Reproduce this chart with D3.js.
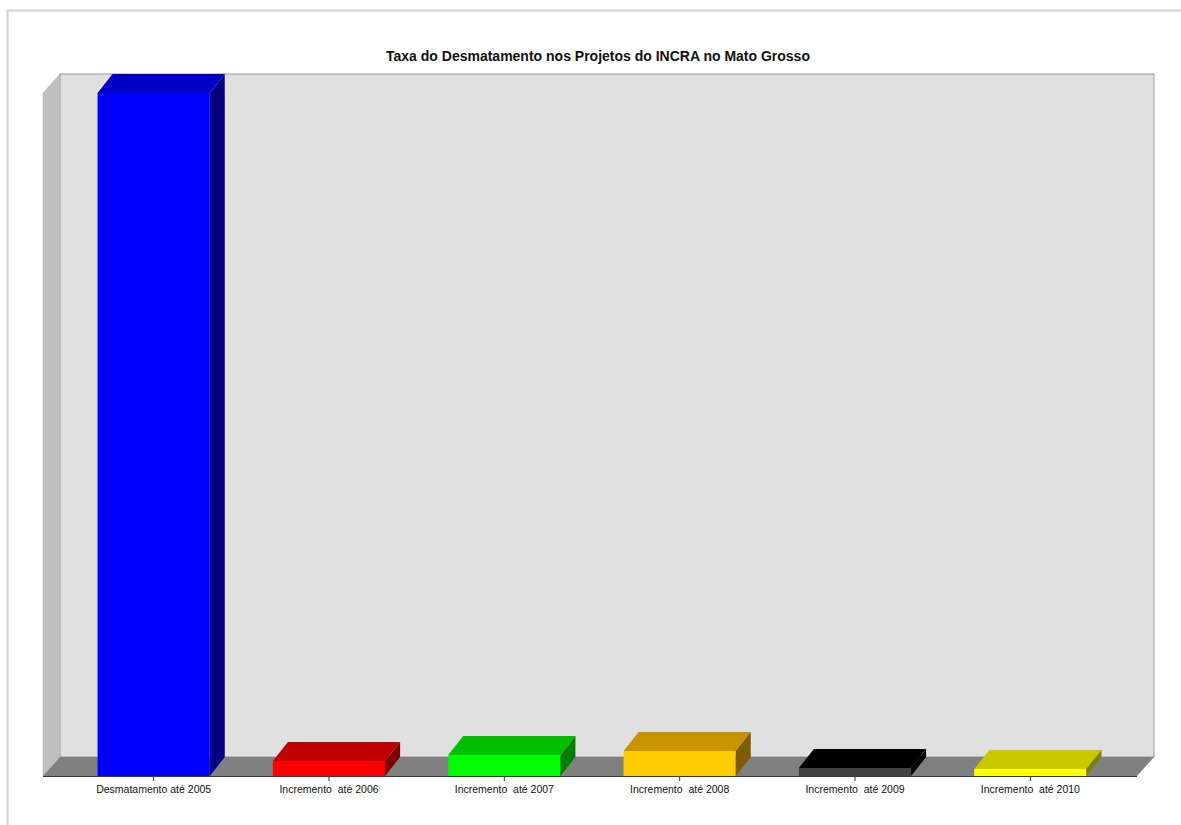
<!DOCTYPE html>
<html>
<head>
<meta charset="utf-8">
<script src="https://cdn.jsdelivr.net/npm/d3@7"></script>
<style>
  body { margin: 0; background: #fff; }
  svg { display: block; }
  .title { font-family: "Liberation Sans", Arial, sans-serif; font-size: 14px; font-weight: bold; fill: #111; }
  .cat-label { font-family: "Liberation Sans Narrow", "Arial Narrow", "Liberation Sans", sans-serif; font-size: 10.5px; fill: #111; white-space: pre; }
</style>
</head>
<body>
<svg width="1181" height="825"></svg>
<script>
let titleText = "Taxa do Desmatamento nos Projetos do INCRA no Mato Grosso";
let categories = ["Desmatamento até 2005", "Incremento  até 2006", "Incremento  até 2007", "Incremento  até 2008", "Incremento  até 2009", "Incremento  até 2010"];
let values = [45000, 990, 1385, 1650, 530, 465];
let frontColors = ["#0000ff", "#ff0000", "#00ff00", "#ffcc00", "#404040", "#ffff00"];
let topColors = ["#0000c8", "#c00000", "#00c000", "#c89400", "#000000", "#c8c800"];
let sideColors = ["#000080", "#800000", "#008000", "#805c00", "#000000", "#808000"];

function render() {
  let svg = d3.select("svg");

  let plot = {left: 43, right: 1137, top: 93, bottom: 776};
  let depth = {dx: 17, dy: -19};
  let barDepth = {dx: 15, dy: -19};

  // outer frame
  svg.append("path")
    .attr("d", `M7.5,825 L7.5,10.5 L1181,10.5`)
    .attr("fill", "none")
    .attr("stroke", "#d0d0d0")
    .attr("stroke-width", 2);

  svg.append("text")
    .attr("class", "title")
    .attr("x", 598)
    .attr("y", 61)
    .attr("text-anchor", "middle")
    .text(titleText);

  // back wall
  svg.append("rect")
    .attr("x", plot.left + depth.dx)
    .attr("y", plot.top + depth.dy)
    .attr("width", plot.right - plot.left)
    .attr("height", plot.bottom - plot.top)
    .attr("fill", "#e0e0e0")
    .attr("stroke", "#9a9a9a")
    .attr("stroke-width", 1);

  // left wall
  svg.append("polygon")
    .attr("points", [
      [plot.left, plot.top],
      [plot.left + depth.dx, plot.top + depth.dy],
      [plot.left + depth.dx, plot.bottom + depth.dy],
      [plot.left, plot.bottom]
    ].join(" "))
    .attr("fill", "#c0c0c0")
    .attr("stroke", "#a8a8a8")
    .attr("stroke-width", 0.5);

  // floor
  svg.append("polygon")
    .attr("points", [
      [plot.left, plot.bottom],
      [plot.left + depth.dx, plot.bottom + depth.dy],
      [plot.right + depth.dx, plot.bottom + depth.dy],
      [plot.right, plot.bottom]
    ].join(" "))
    .attr("fill", "#808080");

  let xScale = d3.scaleBand()
    .domain(categories)
    .range([66, 1118])
    .paddingInner(0.36)
    .paddingOuter(0.18);
  let yScale = d3.scaleLinear()
    .domain([0, d3.max(values)])
    .range([plot.bottom, plot.top]);

  let bars = svg.selectAll(".bar")
    .data(values)
    .enter()
    .append("g")
    .attr("class", "bar");

  let w = xScale.bandwidth();

  // front face
  bars.append("rect")
    .attr("x", (_, i) => xScale(categories[i]))
    .attr("y", d => yScale(d))
    .attr("width", w)
    .attr("height", d => plot.bottom - yScale(d))
    .attr("fill", (_, i) => frontColors[i]);

  // top face
  bars.append("polygon")
    .attr("points", (d, i) => {
      let x0 = xScale(categories[i]);
      let y0 = yScale(d);
      return [
        [x0, y0],
        [x0 + barDepth.dx, y0 + barDepth.dy],
        [x0 + w + barDepth.dx, y0 + barDepth.dy],
        [x0 + w, y0]
      ].join(" ");
    })
    .attr("fill", (_, i) => topColors[i]);

  // side face
  bars.append("polygon")
    .attr("points", (d, i) => {
      let x1 = xScale(categories[i]) + w;
      let y0 = yScale(d);
      return [
        [x1, y0],
        [x1 + barDepth.dx, y0 + barDepth.dy],
        [x1 + barDepth.dx, plot.bottom + barDepth.dy],
        [x1, plot.bottom]
      ].join(" ");
    })
    .attr("fill", (_, i) => sideColors[i]);

  // category axis
  let xAxis = d3.axisBottom(xScale)
    .tickSize(5)
    .tickSizeOuter(0);
  let gX = svg.append("g")
    .attr("transform", `translate(0, ${plot.bottom})`)
    .call(xAxis);
  gX.select(".domain").remove();
  gX.selectAll(".tick line").attr("stroke", "#333");
  gX.selectAll(".tick text")
    .attr("class", "cat-label")
    .attr("font-family", null)
    .attr("font-size", null)
    .attr("fill", null)
    .attr("y", 10);

  svg.append("line")
    .attr("x1", plot.left)
    .attr("x2", plot.right)
    .attr("y1", plot.bottom + 0.5)
    .attr("y2", plot.bottom + 0.5)
    .attr("stroke", "#3a3a3a");
}

render();
</script>
</body>
</html>
